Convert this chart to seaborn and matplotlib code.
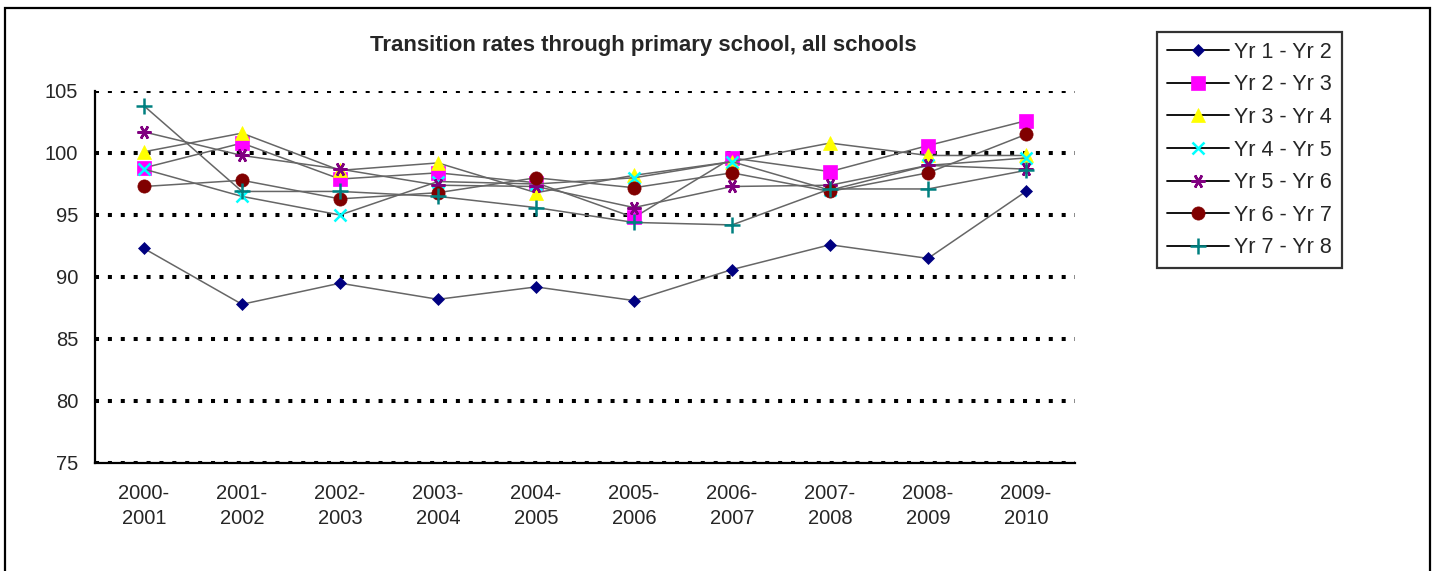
import numpy as np
import pandas as pd
import matplotlib
matplotlib.use('Agg')
import matplotlib.pyplot as plt
import seaborn as sns
from matplotlib.lines import Line2D
from matplotlib.patches import Rectangle

# Data
years = ['2000-\n2001', '2001-\n2002', '2002-\n2003', '2003-\n2004', '2004-\n2005',
         '2005-\n2006', '2006-\n2007', '2007-\n2008', '2008-\n2009', '2009-\n2010']
yr1_2 = [92.3, 87.8, 89.5, 88.2, 89.2, 88.1, 90.6, 92.6, 91.5, 96.9]
yr2_3 = [98.8, 100.8, 97.9, 98.4, 97.6, 94.8, 99.6, 98.5, 100.6, 102.6]
yr3_4 = [100.1, 101.6, 98.6, 99.2, 96.8, 98.2, 99.3, 100.8, 99.8, 99.8]
yr4_5 = [98.7, 96.5, 95.0, 97.7, 97.5, 98.0, 99.3, 97.0, 99.0, 99.6]
yr5_6 = [101.7, 99.8, 98.7, 97.4, 97.3, 95.6, 97.3, 97.4, 99.0, 98.7]
yr6_7 = [97.3, 97.8, 96.3, 96.8, 98.0, 97.2, 98.4, 96.9, 98.4, 101.5]
yr7_8 = [103.8, 96.9, 96.9, 96.5, 95.6, 94.4, 94.2, 97.1, 97.1, 98.6]
series_names = ['Yr 1 - Yr 2', 'Yr 2 - Yr 3', 'Yr 3 - Yr 4', 'Yr 4 - Yr 5',
                'Yr 5 - Yr 6', 'Yr 6 - Yr 7', 'Yr 7 - Yr 8']
y_ticks = [75, 80, 85, 90, 95, 100, 105]

df = pd.DataFrame({'pos': np.arange(len(years))})
for name, vals in zip(series_names, [yr1_2, yr2_3, yr3_4, yr4_5, yr5_6, yr6_7, yr7_8]):
    df[name] = vals

# marker style per series (Excel defaults)
styles = {
    'Yr 1 - Yr 2': dict(marker='D', color='#000080', ms=6.5, fill=True),
    'Yr 2 - Yr 3': dict(marker='s', color='#FF00FF', ms=9.5, fill=True),
    'Yr 3 - Yr 4': dict(marker='^', color='#FFFF00', ms=10, fill=True),
    'Yr 4 - Yr 5': dict(marker='x', color='#00FFFF', ms=9, fill=False),
    'Yr 5 - Yr 6': dict(marker=(6, 2, 90), color='#800080', ms=10, fill=False),
    'Yr 6 - Yr 7': dict(marker='o', color='#800000', ms=9.5, fill=True),
    'Yr 7 - Yr 8': dict(marker='+', color='#008080', ms=11, fill=False),
}

sns.set_style('white')
plt.rcParams['font.family'] = ['Liberation Sans', 'DejaVu Sans']

fig = plt.figure(figsize=(14.34, 5.71), dpi=100)
ax = fig.add_axes([95 / 1434, 1 - 463 / 571, 980 / 1434, 372 / 571])

for name in series_names:
    st = styles[name]
    sns.lineplot(data=df, x='pos', y=name, ax=ax, color='#666666', linewidth=1.1,
                 marker=st['marker'], markersize=st['ms'],
                 markerfacecolor=st['color'], markeredgecolor=st['color'],
                 markeredgewidth=1.8 if not st['fill'] else 0.5, zorder=3)

ax.set_xlim(-0.5, len(years) - 0.5)
ax.set_ylim(75, 105)
ax.set_yticks(y_ticks)
ax.set_yticklabels([str(v) for v in y_ticks], fontsize=14.5)
ax.set_xticks(np.arange(len(years)))
ax.set_xticklabels(years, fontsize=14.5, linespacing=1.4)
ax.set_xticks(np.arange(len(years) + 1) - 0.5, minor=True)
ax.tick_params(axis='x', which='major', length=0, pad=15)
ax.tick_params(axis='x', which='minor', direction='out', length=7, width=1.3, color='black')
ax.tick_params(axis='y', direction='inout', length=8, width=1.3, color='black', pad=8)
ax.set_xlabel('')
ax.set_ylabel('')

ax.yaxis.grid(True, linestyle=(0, (1, 2.2)), linewidth=2.9, color='black', zorder=1)
ax.xaxis.grid(False)
ax.set_axisbelow(True)
for side in ['top', 'right']:
    ax.spines[side].set_visible(False)
for side in ['left', 'bottom']:
    ax.spines[side].set_color('black')
    ax.spines[side].set_linewidth(1.6)

fig.text(643 / 1434, 1 - 45 / 571, 'Transition rates through primary school, all schools',
         ha='center', va='center', fontsize=16, fontweight='bold')

handles = [Line2D([0], [0], color='black', linewidth=1.3, marker=styles[n]['marker'],
                  markersize=styles[n]['ms'], markerfacecolor=styles[n]['color'],
                  markeredgecolor=styles[n]['color'],
                  markeredgewidth=1.8 if not styles[n]['fill'] else 0.5)
           for n in series_names]
leg = fig.legend(handles, series_names, loc='upper left',
                 bbox_to_anchor=(1157 / 1434, 1 - 32 / 571), fontsize=15.5,
                 frameon=True, fancybox=False, handlelength=2.9, handletextpad=0.25,
                 labelspacing=0.54, borderpad=0.45, borderaxespad=0)
leg.get_frame().set_edgecolor('black')
leg.get_frame().set_linewidth(1.6)

# outer chart frame
fig.patches.append(Rectangle((5 / 1434, -0.05), 1425 / 1434, 1 - 8 / 571 + 0.05,
                             transform=fig.transFigure, fill=False,
                             edgecolor='black', linewidth=1.6))

fig.savefig('out.png', dpi=100)
